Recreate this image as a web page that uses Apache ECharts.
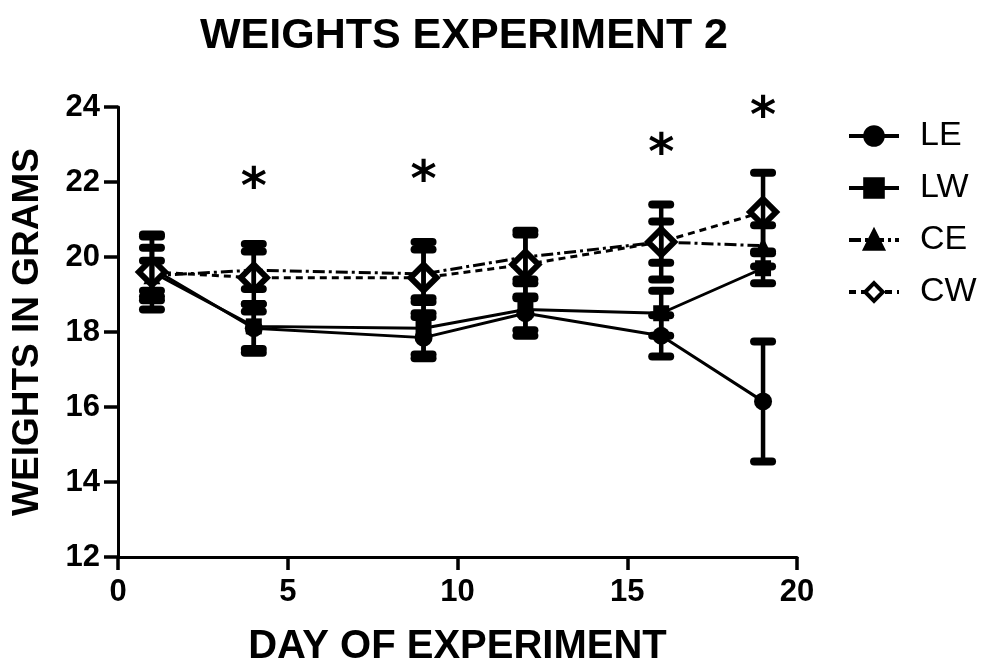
<!DOCTYPE html>
<html lang="en">
  <head>
    <meta charset="UTF-8" />
    <script src="https://cdn.jsdelivr.net/npm/echarts@6/dist/echarts.min.js"></script>
    <title>Weights experiment 2</title>
    <style>
      html, body { margin: 0; background: #fff; }
      #app { width: 984px; height: 661px; }
    </style>
  </head>
  <body>
    <div id="app"></div>
    <script>
      const days = [1, 4, 9, 12, 16, 19];
      const leMean = [19.7, 18.1, 17.85, 18.5, 17.9, 16.15];
      const leErr = [0.85, 0.65, 0.55, 0.45, 0.55, 1.6];
      const lwMean = [19.6, 18.15, 18.1, 18.6, 18.5, 19.7];
      const lwErr = [1.0, 0.6, 0.7, 0.7, 0.6, 0.4];
      const ceMean = [19.5, 19.65, 19.55, 20.0, 20.4, 20.3];
      const ceErr = [0.4, 0.5, 0.65, 0.6, 0.55, 0.55];
      const cwMean = [19.6, 19.45, 19.45, 19.8, 20.4, 21.2];
      const cwErr = [0.65, 0.9, 0.95, 0.9, 1.0, 1.05];
      // significance markers
      const starDays = [4, 9, 16, 19];
      const starY = [22.05, 22.25, 22.95, 23.95];

      const font = "'Liberation Sans', Arial, sans-serif";
      const echart = echarts.init(document.getElementById("app"));

      const pts = (mean) => days.map((d, i) => [d, mean[i]]);
      const bars = (mean, err) => days.map((d, i) => [d, mean[i] - err[i], mean[i] + err[i]]);

      function errRender(params, api) {
        const x = api.value(0);
        const top = api.coord([x, api.value(2)]);
        const bot = api.coord([x, api.value(1)]);
        const capStyle = { stroke: "#000", lineWidth: 8, lineCap: "round" };
        return {
          type: "group",
          children: [
            { type: "line", shape: { x1: top[0], y1: top[1], x2: bot[0], y2: bot[1] }, style: { stroke: "#000", lineWidth: 4.5 } },
            { type: "line", shape: { x1: top[0] - 9, y1: top[1], x2: top[0] + 9, y2: top[1] }, style: capStyle },
            { type: "line", shape: { x1: bot[0] - 9, y1: bot[1], x2: bot[0] + 9, y2: bot[1] }, style: capStyle },
          ],
        };
      }

      function errSeries(mean, err) {
        return {
          type: "custom",
          renderItem: errRender,
          data: bars(mean, err),
          encode: { x: 0, y: [1, 2] },
          z: 5,
          silent: true,
        };
      }

      function lineSeries(name, mean, symbol, size, dash, fill) {
        return {
          name,
          type: "line",
          data: pts(mean),
          symbol,
          symbolSize: size,
          showAllSymbol: true,
          lineStyle: { color: "#000", width: 3, type: dash },
          itemStyle: { color: fill, borderColor: "#000", borderWidth: fill === "#fff" ? 6 : 0 },
          z: 3,
        };
      }

      echart.setOption({
        animation: false,
        title: {
          text: "WEIGHTS EXPERIMENT 2",
          left: 195,
          top: 10,
          textStyle: { fontFamily: font, fontSize: 43, fontWeight: "bold", color: "#000" },
        },
        legend: {
          data: ["LE", "LW", "CE", "CW"],
          orient: "vertical",
          left: 842,
          top: 114,
          itemWidth: 50,
          itemHeight: 22,
          itemGap: 18,
          lineStyle: { width: 4 },
          itemStyle: { borderWidth: 4, borderColor: "#000" },
          textStyle: { fontFamily: font, fontSize: 34, color: "#000", padding: [0, 0, 0, 16] },
        },
        grid: { left: 118, right: 187, top: 107, bottom: 104, containLabel: false, outerBoundsMode: "none" },
        xAxis: {
          type: "value",
          min: 0,
          max: 20,
          interval: 5,
          name: "DAY OF EXPERIMENT",
          nameLocation: "middle",
          nameGap: 70,
          nameTextStyle: { fontFamily: font, fontSize: 40, fontWeight: "bold", color: "#000" },
          axisLine: { lineStyle: { color: "#000", width: 3 } },
          axisTick: { length: 13, lineStyle: { color: "#000", width: 3.5 } },
          axisLabel: { margin: 20, fontFamily: font, fontSize: 31, fontWeight: "bold", color: "#000" },
          splitLine: { show: false },
        },
        yAxis: {
          type: "value",
          min: 12,
          max: 24,
          interval: 2,
          name: "WEIGHTS IN GRAMS",
          nameLocation: "middle",
          nameGap: 72,
          nameTextStyle: { fontFamily: font, fontSize: 37, fontWeight: "bold", color: "#000" },
          axisLine: { show: true, lineStyle: { color: "#000", width: 3 } },
          axisTick: { show: true, length: 14, lineStyle: { color: "#000", width: 3.5 } },
          axisLabel: { margin: 18, fontFamily: font, fontSize: 31, fontWeight: "bold", color: "#000" },
          splitLine: { show: false },
        },
        series: [
          errSeries(leMean, leErr),
          errSeries(lwMean, lwErr),
          errSeries(ceMean, ceErr),
          errSeries(cwMean, cwErr),
          lineSeries("LE", leMean, "circle", 18, "solid", "#000"),
          lineSeries("LW", lwMean, "rect", 16, "solid", "#000"),
          lineSeries("CE", ceMean, "triangle", 17, [12, 4, 3, 4], "#000"),
          lineSeries("CW", cwMean, "diamond", 26, [7, 5], "#fff"),
          {
            type: "scatter",
            data: starDays.map((d, i) => [d, starY[i]]),
            symbolSize: 0,
            itemStyle: { color: "#000", opacity: 1 },
            label: {
              show: true,
              position: "inside",
              formatter: "*",
              fontFamily: "'DejaVu Sans', sans-serif",
              fontSize: 50,
              fontWeight: "bold",
              color: "#000",
              opacity: 1,
              offset: [0, 10],
            },
            silent: true,
          },
        ],
      });
    </script>
  </body>
</html>
